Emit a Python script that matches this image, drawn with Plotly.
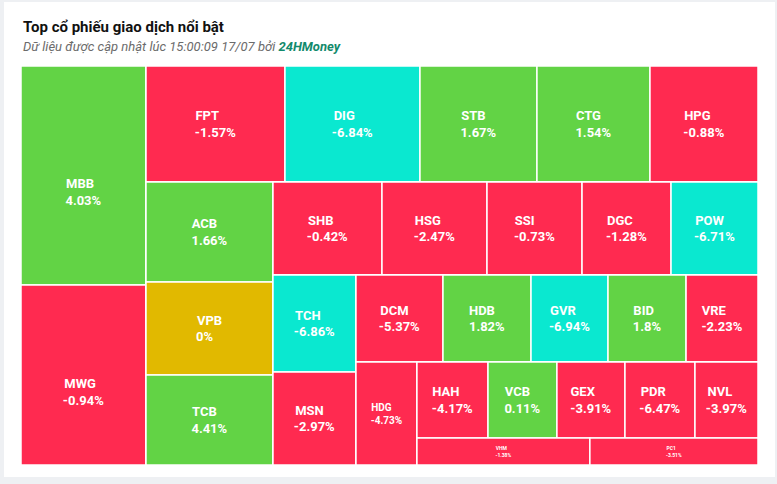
import plotly.graph_objects as go

tickers = ["MBB", "MWG", "FPT", "DIG", "STB", "CTG", "HPG", "ACB", "VPB", "TCB",
           "SHB", "HSG", "SSI", "DGC", "POW", "TCH", "MSN", "DCM", "HDB", "GVR",
           "BID", "VRE", "HDG", "HAH", "VCB", "GEX", "PDR", "NVL", "VHM", "PC1"]
trade_values = [2738, 2250, 1612, 1566, 1357, 1311, 1253, 1270, 1181, 1143,
                1014, 977, 884, 828, 809, 805, 772, 757, 766, 670,
                679, 626, 628, 540, 524, 517, 532, 479, 467, 454]
changes = [4.03, -0.94, -1.57, -6.84, 1.67, 1.54, -0.88, 1.66, 0.0, 4.41,
           -0.42, -2.47, -0.73, -1.28, -6.71, -6.86, -2.97, -5.37, 1.82, -6.94,
           1.8, -2.23, -4.73, -4.17, 0.11, -3.91, -6.47, -3.97, -1.38, -3.51]
floor_flags = [False, False, False, True, False, False, False, False, False, False,
               False, False, False, False, True, True, False, False, False, True,
               False, False, False, False, False, False, False, False, False, False]
# layout groups (rows/columns of the tiling) that each ticker belongs to
ticker_group = ["G1", "G1", "G2", "G2", "G2", "G2", "G2", "G3", "G3", "G3",
                "G4", "G4", "G4", "G4", "G4", "G5", "G5", "G6", "G6", "G6",
                "G6", "G6", "G7", "G8", "G8", "G8", "G8", "G8", "G9", "G9"]
group_ids = ["root", "G1", "R1", "G2", "R2", "G3", "R3", "G4", "R4",
             "G5", "R5", "G6", "R6", "G7", "R7", "G8", "G9"]
group_parents = ["", "root", "root", "R1", "R1", "R2", "R2", "R3", "R3",
                 "R4", "R4", "R5", "R5", "R6", "R6", "R7", "R7"]

GREEN = "#62d345"
RED = "#ff2a50"
CYAN = "#0ae8d0"
YELLOW = "#e1b900"

def color_for(c, f):
    if f:
        return CYAN
    if c > 0:
        return GREEN
    if c < 0:
        return RED
    return YELLOW

def fmt(v):
    s = ("%.2f" % v).rstrip("0").rstrip(".")
    return s + "%"

def size_for(t):
    if t in ("VHM", "PC1"):
        return 5
    if t == "HDG":
        return 10
    return 13

# approximate Roboto Bold advance widths (em) used to left-align the two label lines
EM = {"-": 0.28, ".": 0.27, "%": 0.73, " ": 0.248,
      "A": 0.66, "B": 0.64, "C": 0.65, "D": 0.65, "E": 0.57, "F": 0.56, "G": 0.68,
      "H": 0.71, "I": 0.29, "L": 0.54, "M": 0.87, "N": 0.71, "O": 0.69, "P": 0.64,
      "R": 0.63, "S": 0.61, "T": 0.61, "V": 0.65, "W": 0.87, "1": 0.562}

def em_width(s):
    return sum(EM.get(ch, 0.562) for ch in s)

NBSP = "\u00a0"

def label_block(name, pct):
    a, b = em_width(name), em_width(pct)
    if a < b:
        name = name + NBSP * int(round((b - a) / EM[" "]))
    else:
        pct = pct + NBSP * int(round((a - b) / EM[" "]))
    return name + "<br>" + pct

# build the hierarchy in order: groups and their leaves
ids, labels, parents, values, texts, colors, sizes = [], [], [], [], [], [], []
for gid, gpar in zip(group_ids, group_parents):
    ids.append(gid); labels.append(" "); parents.append(gpar); values.append(0)
    texts.append(""); colors.append("white"); sizes.append(13)
    for t, v, c, f, g in zip(tickers, trade_values, changes, floor_flags, ticker_group):
        if g == gid:
            ids.append(t); labels.append(t); parents.append(gid); values.append(v)
            block = label_block(t, fmt(c))
            if g == "G1":
                block = NBSP + "<br>" + NBSP + "<br>" + block
            texts.append(block); colors.append(color_for(c, f))
            sizes.append(size_for(t))

fig = go.Figure(go.Treemap(
    ids=ids,
    labels=labels,
    parents=parents,
    values=values,
    branchvalues="remainder",
    text=texts,
    texttemplate="%{text}",
    textposition="middle center",
    textfont=dict(family="Roboto, Arial, sans-serif", size=sizes, color="white", weight="bold"),
    marker=dict(colors=colors, line=dict(color="white", width=1.5), pad=dict(t=0, l=0, r=0, b=0)),
    tiling=dict(packing="slice-dice", pad=0),
    pathbar=dict(visible=False),
    sort=False,
    hoverinfo="label",
))

W, H = 777, 484
ml, mr, mt, mb = 21, 19, 66, 19
pw, ph = W - ml - mr, H - mt - mb

def px_x(x):
    return (x - ml) / pw

def px_y(y):
    return 1 - (y - mt) / ph

fig.update_layout(
    width=W, height=H,
    margin=dict(l=ml, r=mr, t=mt, b=mb),
    paper_bgcolor="#eef0f3",
    plot_bgcolor="white",
    font=dict(family="Roboto, Arial, sans-serif"),
    shapes=[dict(type="rect", xref="paper", yref="paper", layer="below",
                 x0=px_x(4), x1=px_x(775), y0=px_y(477), y1=px_y(2),
                 fillcolor="white", line=dict(width=0))],
    annotations=[
        dict(text="<b>Top cổ phiếu giao dịch nổi bật</b>", xref="paper", yref="paper",
             x=px_x(21), y=px_y(27), xanchor="left", yanchor="middle", showarrow=False,
             font=dict(size=15, color="#111111", family="Roboto, Arial, sans-serif")),
        dict(text="<i>Dữ liệu được cập nhật lúc 15:00:09 17/07 bởi </i>"
                  "<i><b><span style='color:#138a6c'>24HMoney</span></b></i>",
             xref="paper", yref="paper",
             x=px_x(21), y=px_y(46), xanchor="left", yanchor="middle", showarrow=False,
             font=dict(size=13, color="#6b6b6b", family="Roboto, Arial, sans-serif")),
    ],
)

fig.write_html("out.html", config={"displayModeBar": False},
               post_script="document.body.style.margin='0';document.body.style.overflow='hidden';")
